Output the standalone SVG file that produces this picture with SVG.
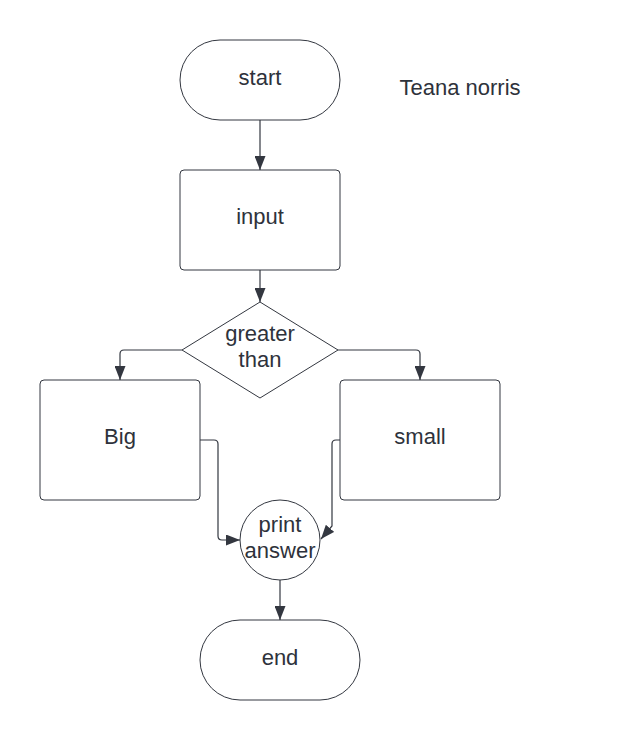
<svg xmlns="http://www.w3.org/2000/svg" width="620" height="740" viewBox="0 0 620 740">
<defs>
<marker id="ah" viewBox="0 0 14 11" refX="14" refY="5.5" markerWidth="14" markerHeight="11" markerUnits="userSpaceOnUse" orient="auto">
<path d="M0,0 L14,5.5 L0,11 z" fill="#333740"/>
</marker>
<style>
.shape{fill:#ffffff;stroke:#333740;stroke-width:1}
.conn{fill:none;stroke:#333740;stroke-width:1.2;marker-end:url(#ah)}
text{font-family:"Liberation Sans",Arial,sans-serif;font-size:22px;fill:#2e323b;text-anchor:middle}
</style>
</defs>
<rect width="620" height="740" fill="#ffffff"/>
<g id="connectors">
<path class="conn" d="M260,120 V170"/>
<path class="conn" d="M260,270 V302"/>
<path class="conn" d="M182,350 H124 Q120,350 120,354 V380"/>
<path class="conn" d="M338,350 H416 Q420,350 420,354 V380"/>
<path class="conn" d="M195,440 H214 Q218,440 218,444 V536 Q218,540 222,540 H240"/>
<path class="conn" d="M346,440 H336 Q332,440 332,444 V526 L321,539"/>
<path class="conn" d="M280,580 V620"/>
</g>
<g id="start">
<rect class="shape" x="180" y="40" width="160" height="80" rx="40" ry="40"/>
<text x="260" y="85">start</text>
</g>
<g id="title">
<text x="460" y="95">Teana norris</text>
</g>
<g id="input">
<rect class="shape" x="180" y="170" width="160" height="100" rx="4" ry="4"/>
<text x="260" y="224">input</text>
</g>
<g id="decision">
<path class="shape" d="M260,302 L338,350 L260,398 L182,350 Z" stroke-linejoin="round"/>
<text x="260" y="341">greater</text>
<text x="260" y="367">than</text>
</g>
<g id="big">
<rect class="shape" x="40" y="380" width="160" height="120" rx="4" ry="4"/>
<text x="120" y="444">Big</text>
</g>
<g id="small">
<rect class="shape" x="340" y="380" width="160" height="120" rx="4" ry="4"/>
<text x="420" y="444">small</text>
</g>
<g id="print">
<circle class="shape" cx="280" cy="540" r="40"/>
<text x="280" y="532">print</text>
<text x="280" y="558">answer</text>
</g>
<g id="end">
<rect class="shape" x="200" y="620" width="160" height="80" rx="40" ry="40"/>
<text x="280" y="665">end</text>
</g>
</svg>
